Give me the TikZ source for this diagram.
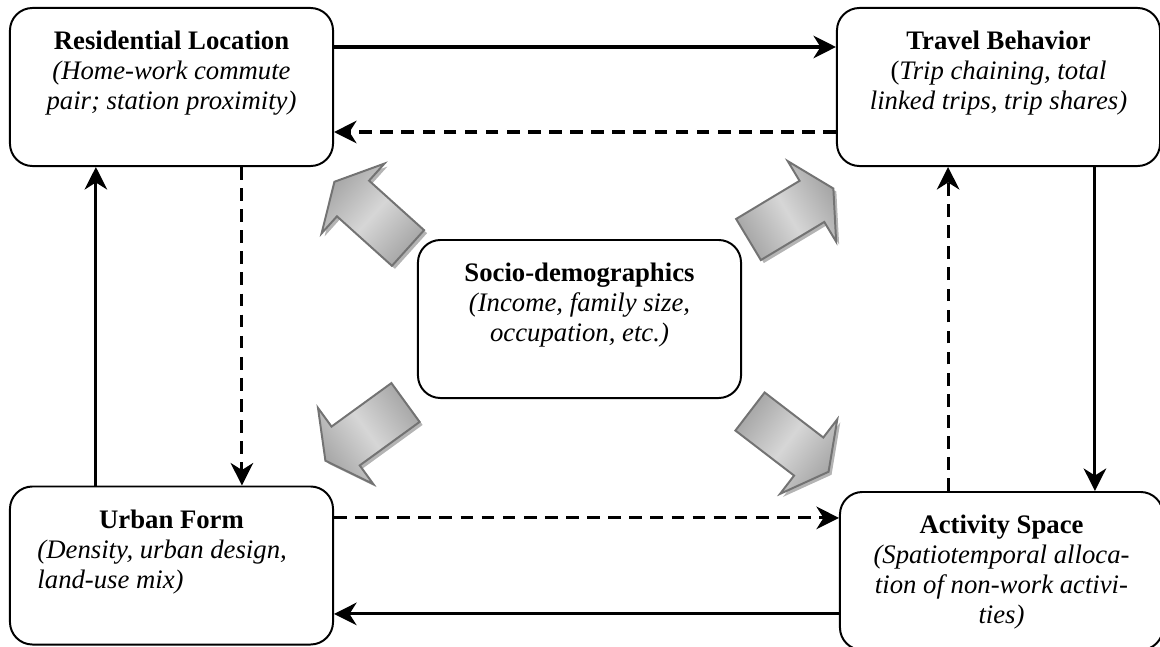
\documentclass[tikz,border=0pt]{standalone}
\usepackage{fontspec}
\setmainfont{Liberation Serif}
\usetikzlibrary{arrows.meta}

% box text: title on top, body below
\newcommand{\factortext}[3][\centering]{%
  \parbox[c][3.95cm][t]{7.6cm}{\centering\rule{0pt}{29.8pt}\textbf{#2}\par
  #1\itshape #3}}

\begin{document}
\begin{tikzpicture}[x=0.025cm, y=-0.025cm,
  factor/.style={draw, line width=1.4pt, rounded corners=16pt, inner sep=0pt,
    minimum width=8.075cm, minimum height=3.95cm,
    font=\fontsize{19}{21.3}\selectfont},
  link/.style={line width=2.2pt, -{Stealth[length=16pt, width=16pt, inset=5pt]}},
  weak/.style={link, dash pattern=on 9pt off 6pt},
  blockarrow/.style={draw=black!55, line width=1.4pt, left color=gray!70,
    right color=gray!70, middle color=gray!32}
]

% Colors
\definecolor{shadowgray}{RGB}{180,180,180}

% Parameters
\def\shaftL{74}
\def\shaftW{24}
\def\headW{47}
\def\tipL{99}

\useasboundingbox (0,0) rectangle (1160,646);
\clip (0,0) rectangle (1160,646);

% Factors
\node[factor] (res) at (171.5,87)
  {\factortext{Residential Location}{(Home-work commute\\pair; station proximity)}};
\node[factor] (travel) at (998.5,87)
  {\factortext{Travel Behavior}{\textup{(}Trip chaining, total\\linked trips, trip shares)}};
\node[factor] (socio) at (579.5,319)
  {\factortext{Socio-demographics}{(Income, family size,\\occupation, etc.)}};
\node[factor] (urban) at (171.5,565.5)
  {\factortext[\raggedright\leftskip=0.45cm]{Urban Form}{(Density, urban design,\\land-use mix)}};
\node[factor] (activity) at (1001.5,571)
  {\factortext{Activity Space}{(Spatiotemporal alloca-\\tion of non-work activi-\\ties)}};

% Links between the outer factors
\draw[link] ([yshift=1cm]res.east) -- ([yshift=1cm]travel.west);
\draw[weak] ([yshift=-1.125cm]travel.west) -- ([yshift=-1.125cm]res.east);
\draw[weak] ([xshift=1.76cm]res.south) -- ([xshift=1.76cm]res.south |- urban.north);
\draw[link] ([xshift=-1.89cm]urban.north) -- ([xshift=-1.89cm]urban.north |- res.south);
\draw[link] ([xshift=2.41cm]travel.south) -- ([xshift=2.41cm]travel.south |- activity.north);
\draw[weak] ([xshift=-1.26cm]travel.south |- activity.north) -- ([xshift=-1.26cm]travel.south);
\draw[weak] ([yshift=1.19cm]urban.east) -- ([yshift=1.19cm]urban.east -| activity.west);
\draw[link] ([yshift=-1.21cm]urban.east -| activity.west) -- ([yshift=-1.21cm]urban.east);

% Block arrows out of the socio-demographics
\foreach \tx/\ty/\ang in {408/248/138, 748.5/239.5/31, 405.5/402.5/216, 750/411.5/-37.5} {
  \pgfmathsetmacro\sang{\ang+90}
  \fill[shadowgray, shift={(\tx+3,\ty+3)}, rotate=\ang]
    (0,-\shaftW) -- (\shaftL,-\shaftW) -- (\shaftL,-\headW) -- (\tipL,0)
    -- (\shaftL,\headW) -- (\shaftL,\shaftW) -- (0,\shaftW) -- cycle;
  \path[blockarrow, shading angle=\sang, shift={(\tx,\ty)}, rotate=\ang]
    (0,-\shaftW) -- (\shaftL,-\shaftW) -- (\shaftL,-\headW) -- (\tipL,0)
    -- (\shaftL,\headW) -- (\shaftL,\shaftW) -- (0,\shaftW) -- cycle;
}
\end{tikzpicture}
\end{document}
